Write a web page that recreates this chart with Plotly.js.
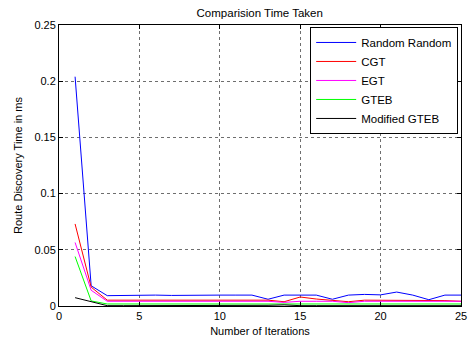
<!DOCTYPE html>
<html>
<head>
<meta charset="utf-8">
<script src="https://cdn.plot.ly/plotly-3.0.1.min.js"></script>
<style>
  html, body { margin: 0; padding: 0; background: #fff; }
  #chart { width: 468px; height: 340px; }
</style>
</head>
<body>
<div id="chart"></div>
<script>
// Iteration index
const iterations = [1,2,3,4,5,6,7,8,9,10,11,12,13,14,15,16,17,18,19,20,21,22,23,24,25];

// Route discovery time (ms) per algorithm
const randomRandom = [0.204, 0.018, 0.0092, 0.0095, 0.0097, 0.0097, 0.0094, 0.0097, 0.0095, 0.0097, 0.0097, 0.0097, 0.006, 0.0097, 0.0097, 0.0097, 0.006, 0.0097, 0.0103, 0.0099, 0.0124, 0.0097, 0.0056, 0.0097, 0.0097];
const cgt = [0.073, 0.0168, 0.0052, 0.0052, 0.0052, 0.0052, 0.0052, 0.0052, 0.0052, 0.0052, 0.0052, 0.0052, 0.0052, 0.0038, 0.008, 0.0062, 0.0052, 0.0038, 0.0052, 0.0052, 0.0052, 0.0052, 0.0052, 0.0048, 0.0042];
const egt = [0.0565, 0.014, 0.0042, 0.0042, 0.0042, 0.0042, 0.0042, 0.0042, 0.0042, 0.0042, 0.0042, 0.0042, 0.0042, 0.0032, 0.0042, 0.0042, 0.0042, 0.003, 0.0042, 0.0042, 0.0042, 0.0042, 0.0042, 0.0042, 0.0042];
const gteb = [0.044, 0.0045, 0.0018, 0.0018, 0.0018, 0.0018, 0.0018, 0.0018, 0.0018, 0.0018, 0.0018, 0.0018, 0.0018, 0.0018, 0.0018, 0.0018, 0.0018, 0.0018, 0.0018, 0.0018, 0.0018, 0.0018, 0.0018, 0.0018, 0.0018];
const modifiedGteb = [0.0074, 0.004, 0.0003, 0.0003, 0.0003, 0.0003, 0.0003, 0.0003, 0.0003, 0.0003, 0.0003, 0.0003, 0.0006, 0.001, 0.0003, 0.0003, 0.0003, 0.0003, 0.0003, 0.0003, 0.0003, 0.0003, 0.0003, 0.0003, 0.0003];

const seriesNames = ['Random Random', 'CGT', 'EGT', 'GTEB', 'Modified GTEB'];
const seriesColors = ['#0000ff', '#ff0000', '#ff00ff', '#00ff00', '#000000'];
const seriesData = [randomRandom, cgt, egt, gteb, modifiedGteb];

const xTicks = [0, 5, 10, 15, 20, 25];
const yTicks = [0, 0.05, 0.1, 0.15, 0.2, 0.25];
const yTickText = ['0', '0.05', '0.1', '0.15', '0.2', '0.25'];

const FONT = 'Liberation Sans, Arial, sans-serif';

const traces = seriesData.map((ys, i) => ({
  x: iterations,
  y: ys,
  type: 'scatter',
  mode: 'lines',
  name: seriesNames[i],
  line: { color: seriesColors[i], width: 1 }
}));

const axisCommon = {
  showline: true,
  linecolor: '#000',
  linewidth: 1,
  mirror: 'ticks',
  ticks: 'inside',
  ticklen: 4,
  tickcolor: '#000',
  showgrid: true,
  gridcolor: '#6e6e6e',
  griddash: 'dot',
  gridwidth: 1,
  zeroline: false,
  tickfont: { family: FONT, size: 11, color: '#000' }
};

const layout = {
  width: 468,
  height: 340,
  margin: { l: 59, r: 7, t: 25, b: 34 },
  paper_bgcolor: '#fff',
  plot_bgcolor: '#fff',
  title: {
    text: 'Comparision Time Taken',
    font: { family: FONT, size: 11.5, color: '#000' },
    x: 0.555, xanchor: 'center',
    y: 0.963, yanchor: 'middle'
  },
  xaxis: Object.assign({}, axisCommon, {
    range: [0, 25],
    tickvals: xTicks,
    title: { text: 'Number of Iterations', standoff: 6,
      font: { family: FONT, size: 11, color: '#000' } }
  }),
  yaxis: Object.assign({}, axisCommon, {
    range: [0, 0.25],
    tickvals: yTicks,
    ticktext: yTickText,
    title: { text: 'Route Discovery Time in ms', standoff: 9,
      font: { family: FONT, size: 11, color: '#000' } }
  }),
  legend: {
    x: 0.993, y: 0.993, xanchor: 'right', yanchor: 'top',
    bgcolor: '#fff',
    bordercolor: '#000',
    borderwidth: 1,
    font: { family: FONT, size: 11.5, color: '#000' },
    tracegroupgap: 0,
    itemwidth: 40
  },
  showlegend: true
};

Plotly.newPlot('chart', traces, layout, { displayModeBar: false, staticPlot: true });
</script>
</body>
</html>
